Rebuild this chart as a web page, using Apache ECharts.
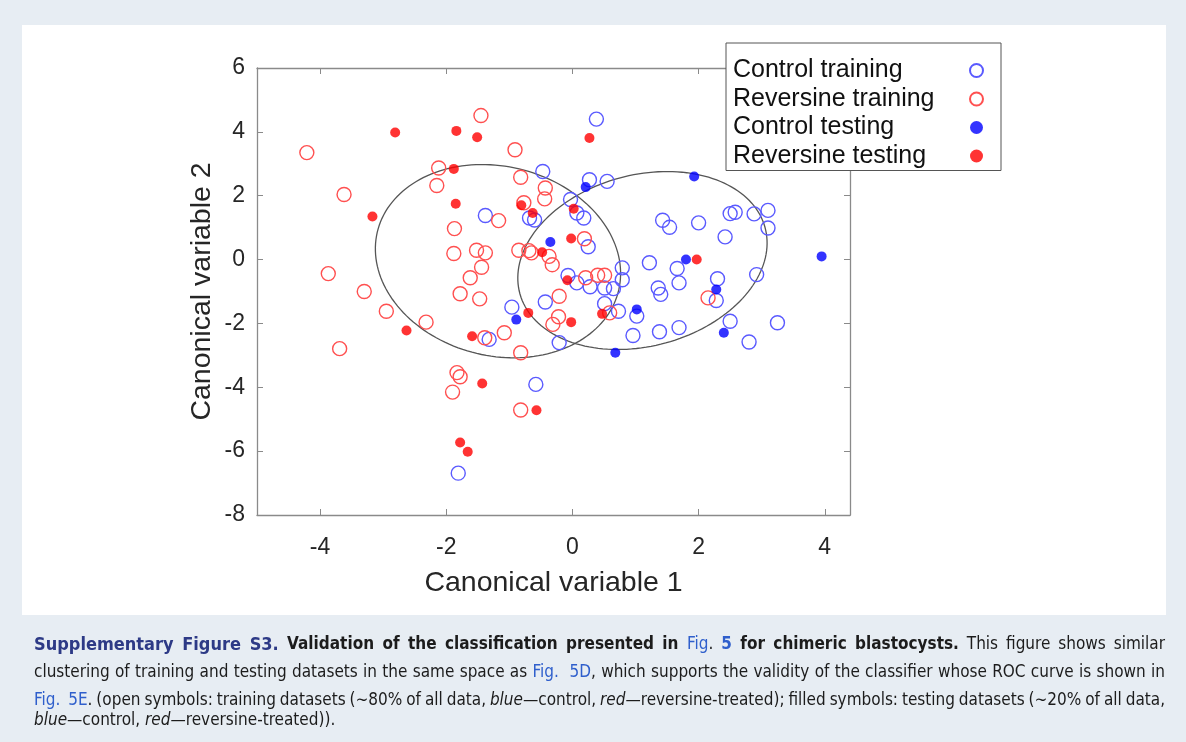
<!DOCTYPE html>
<html>
<head>
<meta charset="utf-8">
<script src="https://cdn.jsdelivr.net/npm/echarts@6/dist/echarts.min.js"></script>
<style>
  html, body { margin: 0; padding: 0; background: #e7edf3; }
  #main { width: 1186px; height: 742px; }
</style>
</head>
<body>
<div id="main"></div>
<script>
// open blue circles
var controlTraining = [
  [0.38, 4.40], [-0.47, 2.76], [0.27, 2.50], [0.55, 2.45], [-0.03, 1.88], [0.07, 1.46], [0.18, 1.30],
  [-1.38, 1.38], [-0.68, 1.30], [-0.60, 1.24], [0.25, 0.40], [-0.07, -0.50], [0.07, -0.73], [0.28, -0.85],
  [0.51, -0.89], [0.65, -0.91], [0.79, -0.26], [0.79, -0.63], [0.51, -1.38], [0.73, -1.62], [1.02, -1.77],
  [0.96, -2.38], [-0.21, -2.60], [-0.43, -1.33], [-0.96, -1.49], [-1.32, -2.50], [1.43, 1.23], [1.54, 1.01],
  [2.00, 1.15], [2.50, 1.44], [2.58, 1.48], [2.88, 1.43], [3.10, 1.54], [3.10, 0.99], [2.42, 0.71],
  [1.22, -0.10], [1.66, -0.28], [1.69, -0.73], [1.36, -0.89], [1.40, -1.09], [2.30, -0.60], [2.28, -1.28],
  [2.92, -0.47], [1.38, -2.26], [1.69, -2.13], [2.50, -1.93], [2.80, -2.58], [3.25, -1.98], [-0.58, -3.91],
  [-1.81, -6.69]
];
// open red circles
var reversineTraining = [
  [-4.21, 3.35], [-3.62, 2.04], [-2.12, 2.87], [-2.15, 2.32], [-1.45, 4.51], [-0.91, 3.44], [-0.82, 2.58],
  [-0.43, 2.24], [-0.44, 1.90], [-1.17, 1.22], [-0.77, 1.78], [-1.87, 0.97], [-3.87, -0.44], [-3.30, -1.00],
  [-2.95, -1.62], [-2.32, -1.96], [-3.69, -2.79], [0.19, 0.65], [-1.88, 0.19], [-1.52, 0.29], [-1.38, 0.21],
  [-1.44, -0.24], [-1.62, -0.57], [-1.78, -1.07], [-1.47, -1.23], [-0.85, 0.29], [-0.69, 0.28], [-0.65, 0.21],
  [-0.37, 0.10], [-0.32, -0.16], [0.21, -0.57], [0.40, -0.49], [0.51, -0.49], [0.59, -1.67], [-0.21, -1.15],
  [-0.22, -1.79], [-0.31, -2.03], [-1.08, -2.29], [-1.39, -2.45], [-0.82, -2.92], [-1.83, -3.54],
  [-1.78, -3.67], [-1.90, -4.15], [-0.82, -4.71], [2.15, -1.20]
];
// filled blue dots
var controlTesting = [
  [0.21, 2.27], [-0.35, 0.55], [1.93, 2.60], [3.95, 0.10], [1.80, 0.00], [2.28, -0.94], [1.02, -1.56],
  [0.68, -2.92], [2.40, -2.29], [-0.89, -1.88]
];
// filled red dots
var reversineTesting = [
  [-2.81, 3.98], [-1.84, 4.03], [-1.51, 3.83], [0.27, 3.81], [-1.88, 2.84], [-3.17, 1.35], [-1.85, 1.75],
  [0.02, 1.59], [-0.81, 1.70], [-0.63, 1.46], [-0.02, 0.66], [-0.48, 0.23], [-0.08, -0.65], [0.47, -1.70],
  [-0.02, -1.96], [-0.70, -1.67], [-1.59, -2.40], [-2.63, -2.22], [-1.43, -3.88], [-0.57, -4.72],
  [-1.78, -5.73], [-1.66, -6.02], [1.97, 0.00]
];
// ellipses: centre + two half-axis vectors (data units)
var ellipseCenters = [[-1.18, -0.05], [1.11, -0.03]];
var ellipseAxisA = [[1.94, -0.20], [1.96, 0.20]];
var ellipseAxisB = [[-0.12, 3.02], [0.25, 2.78]];

var xTicks = [-4, -2, 0, 2, 4];
var seriesNames = ['Control training', 'Reversine training', 'Control testing', 'Reversine testing'];

// caption: [style, text] pieces per line
var captionLines = [
  [['h', 'Supplementary Figure S3.'], ['b', ' Validation of the classification presented in '], ['l', 'Fig'], ['n', '. '], ['lb', '5'], ['b', ' for chimeric blastocysts.'], ['n', ' This figure shows similar']],
  [['n', 'clustering of training and testing datasets in the same space as '], ['l', 'Fig.  5D'], ['n', ', which supports the validity of the classifier whose ROC curve is shown in']],
  [['l', 'Fig.  5E'], ['n', '. (open symbols: training datasets (\u223c80% of all data, '], ['i', 'blue'], ['n', '\u2014control, '], ['i', 'red'], ['n', '\u2014reversine-treated); filled symbols: testing datasets (\u223c20% of all data,']],
  [['i', 'blue'], ['n', '\u2014control, '], ['i', 'red'], ['n', '\u2014reversine-treated)).']]
];
var captionY = [645, 673, 701, 721];
var captionJustify = [true, true, true, false];

var axisFont = '"Liberation Sans", Arial, Helvetica, sans-serif';
var capFont = '"Liberation Sans Narrow", "DejaVu Sans Condensed", "Liberation Sans", sans-serif';
var axisGrey = '#8a8a8a';

var capStyles = {
  h: { fontSize: 18, fontWeight: 'bold', fontStyle: 'normal', fill: '#2d3a86' },
  b: { fontSize: 17, fontWeight: 'bold', fontStyle: 'normal', fill: '#1c1c1c' },
  l: { fontSize: 17, fontWeight: 'normal', fontStyle: 'normal', fill: '#2f5fcc' },
  lb: { fontSize: 17, fontWeight: 'bold', fontStyle: 'normal', fill: '#2f5fcc' },
  n: { fontSize: 17, fontWeight: 'normal', fontStyle: 'normal', fill: '#1c1c1c' },
  i: { fontSize: 17, fontWeight: 'normal', fontStyle: 'italic', fill: '#1c1c1c' }
};

function renderEllipse(params, api) {
  var i = params.dataIndex;
  var cx = api.value(0), cy = api.value(1);
  var a = ellipseAxisA[i], b = ellipseAxisB[i];
  var pts = [];
  for (var k = 0; k <= 160; k++) {
    var t = k / 160 * Math.PI * 2;
    pts.push(api.coord([
      cx + a[0] * Math.cos(t) + b[0] * Math.sin(t),
      cy + a[1] * Math.cos(t) + b[1] * Math.sin(t)
    ]));
  }
  return {
    type: 'polyline',
    shape: { points: pts },
    style: { stroke: '#555555', lineWidth: 1.3, fill: null }
  };
}

// caption words, justified between x=34 and x=1165
var ctx = document.createElement('canvas').getContext('2d');
function fontOf(s) { return s.fontStyle + ' ' + s.fontWeight + ' ' + s.fontSize + 'px ' + capFont; }
function buildCaption() {
  var els = [];
  captionLines.forEach(function (line, li) {
    var tokens = [];
    line.forEach(function (seg) {
      seg[1].split(/( )/).forEach(function (t) { if (t !== '') tokens.push([seg[0], t]); });
    });
    var natural = 0, spaces = 0;
    tokens.forEach(function (tk) {
      ctx.font = fontOf(capStyles[tk[0]]);
      var w = ctx.measureText(tk[1]).width;
      tk.push(w);
      natural += w;
      if (tk[1] === ' ') spaces++;
    });
    var extra = captionJustify[li] && spaces ? (1131 - natural) / spaces : 0;
    var x = 34;
    tokens.forEach(function (tk) {
      if (tk[1] === ' ') { x += tk[2] + extra; return; }
      var s = capStyles[tk[0]];
      els.push({
        type: 'text', x: x, y: captionY[li], silent: true,
        style: {
          text: tk[1], fill: s.fill, fontSize: s.fontSize, fontWeight: s.fontWeight,
          fontStyle: s.fontStyle, fontFamily: capFont, verticalAlign: 'middle', align: 'left'
        }
      });
      x += tk[2];
    });
  });
  return els;
}

var frameX = function (pos) {
  return {
    type: 'value', min: -5, max: 4.4, position: pos,
    axisLine: { show: true, onZero: false, lineStyle: { color: axisGrey, width: 1.3 } },
    axisTick: { show: true, inside: true, length: 6, customValues: xTicks, lineStyle: { color: axisGrey } },
    axisLabel: { show: pos === 'bottom', customValues: xTicks, fontSize: 23, color: '#262626', fontFamily: axisFont, margin: 21 },
    splitLine: { show: false }
  };
};
var frameY = function (pos) {
  return {
    type: 'value', min: -8, max: 6, interval: 2, position: pos,
    axisLine: { show: true, onZero: false, lineStyle: { color: axisGrey, width: 1.3 } },
    axisTick: { show: true, inside: true, length: 6, lineStyle: { color: axisGrey } },
    axisLabel: { show: pos === 'left', fontSize: 23, color: '#262626', fontFamily: axisFont, margin: 12 },
    splitLine: { show: false }
  };
};

var xBottom = frameX('bottom');
xBottom.name = 'Canonical variable 1';
xBottom.nameLocation = 'middle';
xBottom.nameGap = 54;
xBottom.nameTextStyle = { fontSize: 28.5, color: '#262626', fontFamily: axisFont };
var yLeft = frameY('left');
yLeft.name = 'Canonical variable 2';
yLeft.nameLocation = 'middle';
yLeft.nameGap = 40;
yLeft.nameTextStyle = { fontSize: 28.5, color: '#262626', fontFamily: axisFont };

var graphics = [{
  type: 'rect', z: -10, silent: true,
  shape: { x: 22, y: 25, width: 1144, height: 590 },
  style: { fill: '#ffffff' }
}].concat(buildCaption());

var openStyle = function (c) {
  return { color: 'transparent', borderColor: c, borderWidth: 1.4, opacity: 1 };
};

var option = {
  backgroundColor: '#e7edf3',
  animation: false,
  grid: { left: 257, right: 336, top: 68, bottom: 227 },
  graphic: graphics,
  legend: {
    data: seriesNames,
    orient: 'vertical',
    left: 726, top: 43,
    align: 'right',
    padding: [15, 17, 2, 7],
    itemGap: 3.5,
    itemWidth: 13, itemHeight: 13,
    backgroundColor: '#ffffff',
    borderColor: '#555555', borderWidth: 1,
    borderRadius: 0,
    formatter: '{a|{name}}',
    textStyle: {
      rich: { a: { width: 232, align: 'left', fontSize: 25, color: '#111111', fontFamily: axisFont } }
    },
    z: 10
  },
  xAxis: [xBottom, frameX('top')],
  yAxis: [yLeft, frameY('right')],
  series: [
    {
      name: 'ellipses', type: 'custom', renderItem: renderEllipse,
      data: ellipseCenters, silent: true, z: 1
    },
    {
      name: seriesNames[0], type: 'scatter', symbol: 'circle', symbolSize: 14,
      itemStyle: openStyle('#5a5aff'), data: controlTraining, z: 2
    },
    {
      name: seriesNames[1], type: 'scatter', symbol: 'circle', symbolSize: 14,
      itemStyle: openStyle('#ff5050'), data: reversineTraining, z: 2
    },
    {
      name: seriesNames[2], type: 'scatter', symbol: 'circle', symbolSize: 10,
      itemStyle: { color: '#0000ff' }, data: controlTesting, z: 3
    },
    {
      name: seriesNames[3], type: 'scatter', symbol: 'circle', symbolSize: 10,
      itemStyle: { color: '#ff0000' }, data: reversineTesting, z: 3
    }
  ]
};

var myChart = echarts.init(document.getElementById('main'));
myChart.setOption(option);
</script>
</body>
</html>
